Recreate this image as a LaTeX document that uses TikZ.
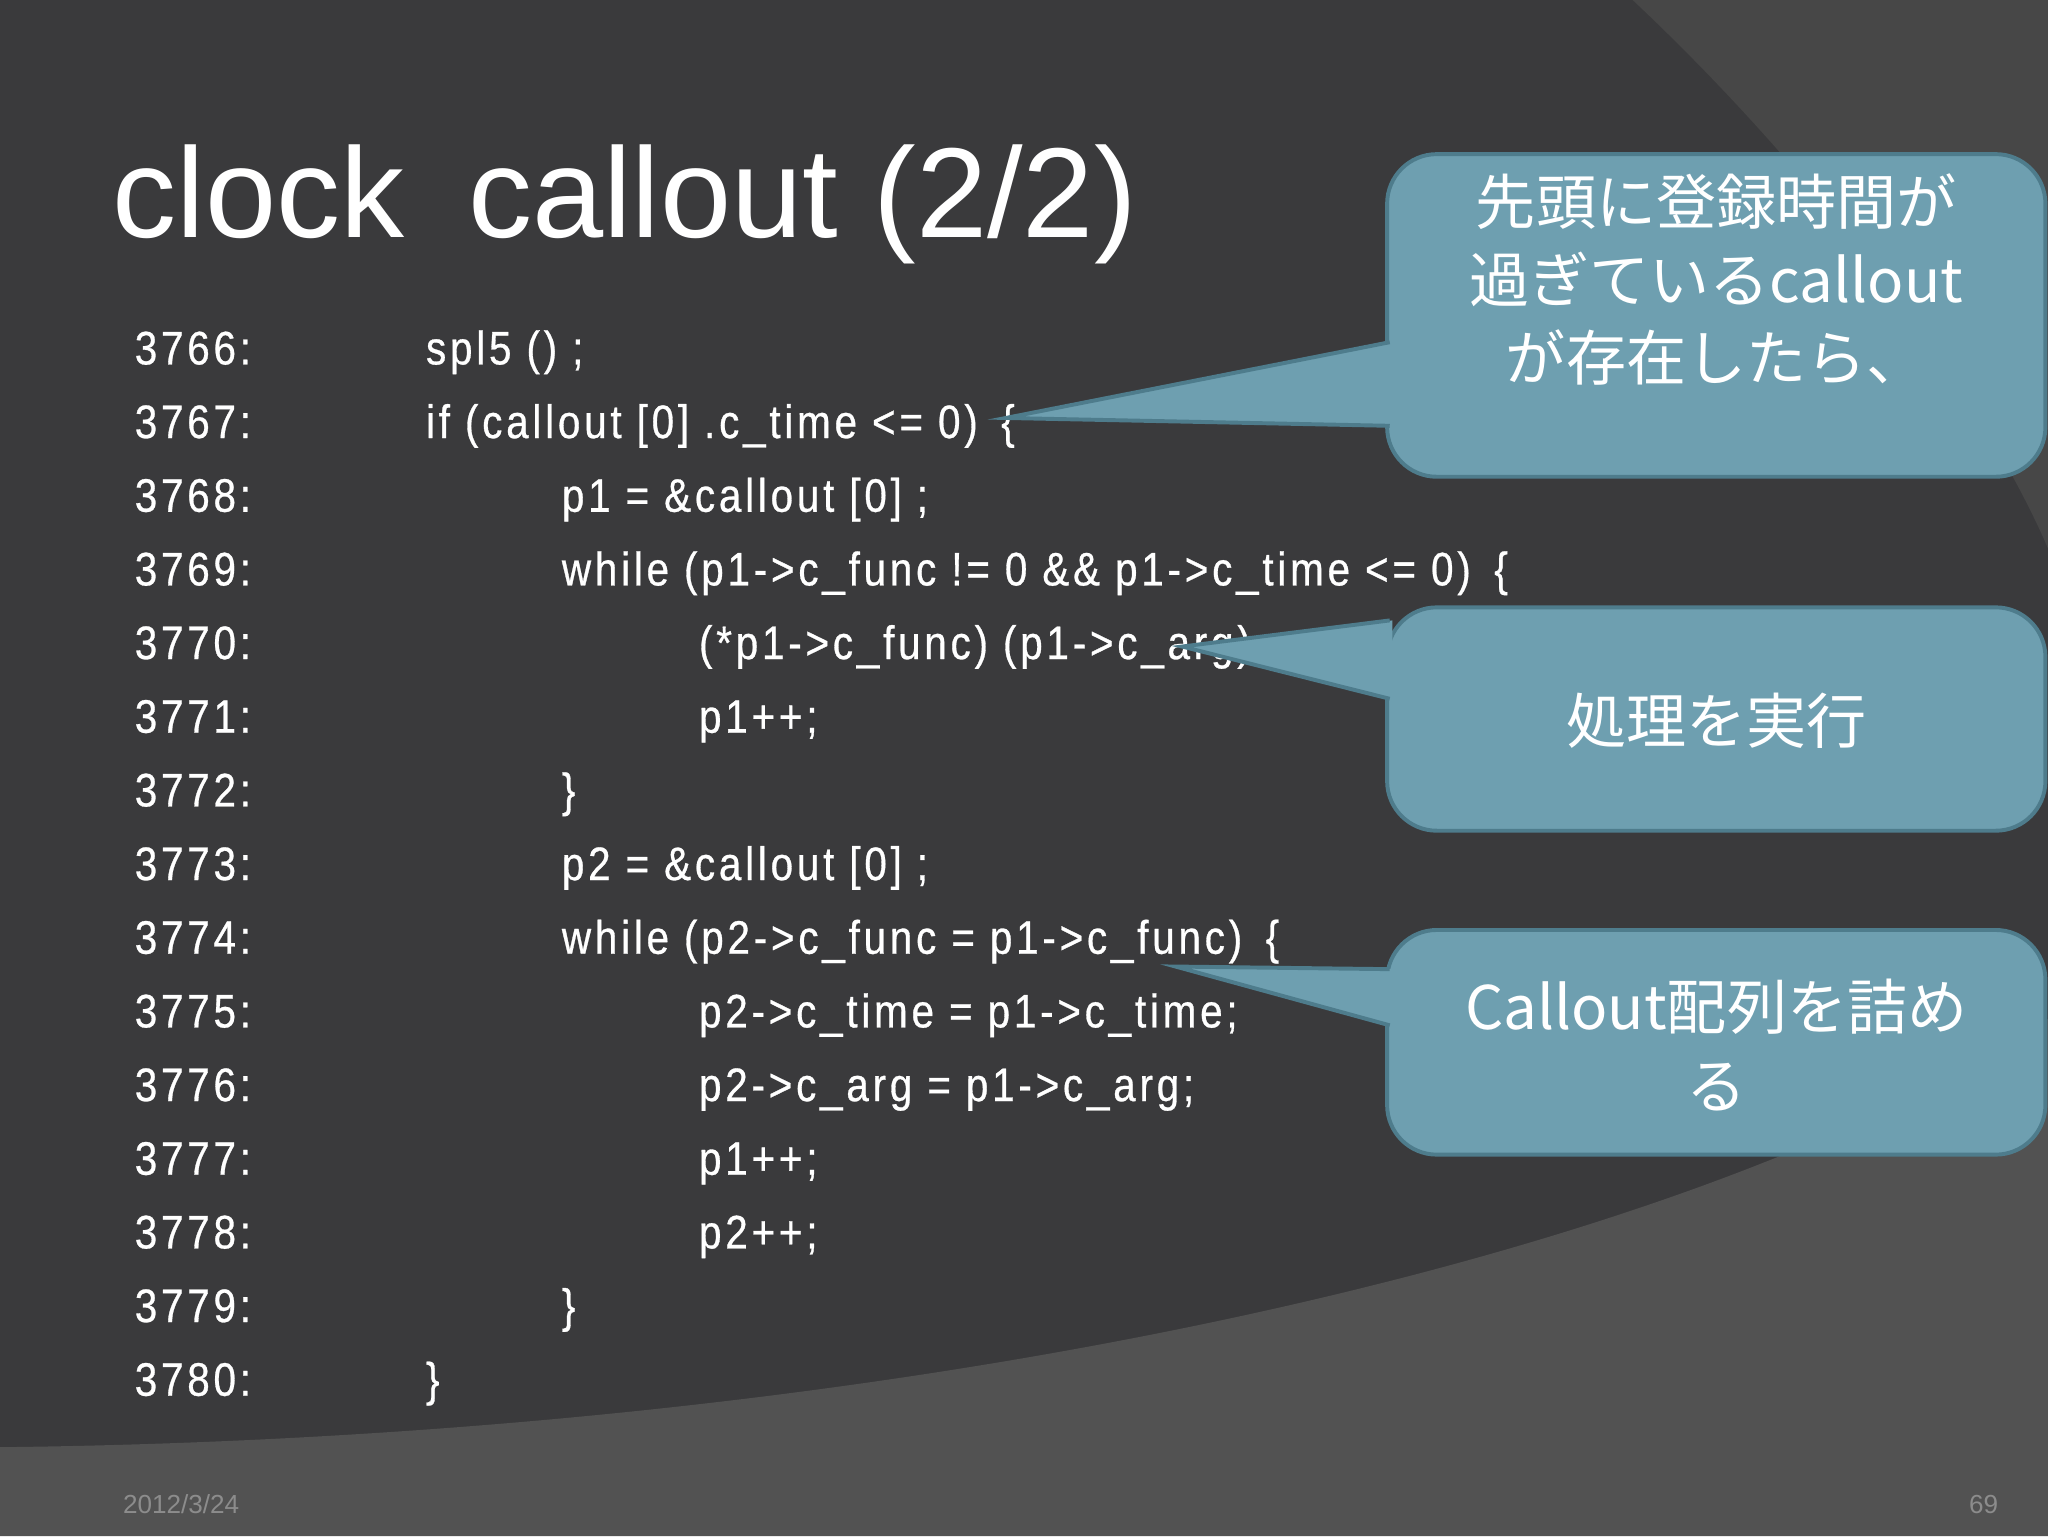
\documentclass[tikz,border=0pt]{standalone}
\usepackage{fontspec}
\setmainfont{Liberation Sans}
\newfontfamily\codefont[FakeStretch=0.86,LetterSpace=8,FakeBold=0.6]{Liberation Sans}
\newfontfamily\jp{Noto Sans CJK JP}
\begin{document}
\begin{tikzpicture}[x=1pt,y=-1pt,
  code/.style={anchor=base west,inner sep=0,text=white,font=\codefont\fontsize{36}{40}\selectfont},
  callout/.style={fill=calfill,draw=caldraw,line width=3pt,rounded corners=38pt},
  ctext/.style={text=white,font=\jp\fontsize{46}{60}\selectfont,align=center}]
\definecolor{bg}{HTML}{3A3A3C}
\definecolor{calfill}{HTML}{6E9FB0}
\definecolor{caldraw}{HTML}{4E7C8C}
\fill[bg] (0,0) rectangle (1568,1176);
\useasboundingbox (0,0) rectangle (1568,1176);
\fill[color=black!72] (1250,0) .. controls (1420,160) and (1530,330) .. (1568,420) -- (1568,0) -- cycle;
\fill[color=black!68] (0,1108) .. controls (700,1100) and (1300,960) .. (1568,780) -- (1568,1176) -- (0,1176) -- cycle;
\node[anchor=base west,inner sep=0,text=white,font=\fontsize{98}{110}\selectfont] (title) at (86,182) {clock\enspace callout (2/2)};
\foreach \n/\ind/\t [count=\i from 0] in {
 3766/326/{spl5 () ;},
 3767/326/{if (callout [0] .c\_time <= 0)\enspace \{},
 3768/430/{p1 = \&callout [0] ;},
 3769/430/{while (p1->c\_func != 0 \&\& p1->c\_time <= 0)\enspace \{},
 3770/535/{(*p1->c\_func) (p1->c\_arg) ;},
 3771/535/{p1++;},
 3772/430/{\}},
 3773/430/{p2 = \&callout [0] ;},
 3774/430/{while (p2->c\_func = p1->c\_func)\enspace \{},
 3775/535/{p2->c\_time = p1->c\_time;},
 3776/535/{p2->c\_arg = p1->c\_arg;},
 3777/535/{p1++;},
 3778/535/{p2++;},
 3779/430/{\}},
 3780/326/{\}}} {
  \node[code] (n\i) at (103,{279+56.4*\i}) {\n:};
  \node[code] (c\i) at (\ind,{279+56.4*\i}) {\t};
}
\path[callout] (1062,118) rectangle (1566,365);
\fill[calfill] (1066,262) -- (770,320) -- (1066,326) -- cycle;
\draw[caldraw,line width=3pt] (1064,262) -- (770,320) -- (1064,326);
\node[ctext] (t1) at (1314,214) {先頭に登録時間が\\過ぎているcallout\\が存在したら、};
\path[callout] (1062,465) rectangle (1566,636);
\fill[calfill] (1066,475) -- (905,495) -- (1066,535) -- cycle;
\draw[caldraw,line width=3pt] (1064,475) -- (905,495) -- (1064,535);
\node[ctext] (t2) at (1314,552) {処理を実行};
\path[callout] (1062,712) rectangle (1566,884);
\fill[calfill] (1066,742) -- (900,740) -- (1066,785) -- cycle;
\draw[caldraw,line width=3pt] (1064,742) -- (900,740) -- (1064,785);
\node[ctext] (t3) at (1314,800) {Callout配列を詰め\\る};
\node[anchor=base west,inner sep=0,text=black!45,font=\fontsize{20}{24}\selectfont] (date) at (94,1159) {2012/3/24};
\node[anchor=base east,inner sep=0,text=black!45,font=\fontsize{20}{24}\selectfont] (pg) at (1530,1159) {69};
\end{tikzpicture}
\end{document}
